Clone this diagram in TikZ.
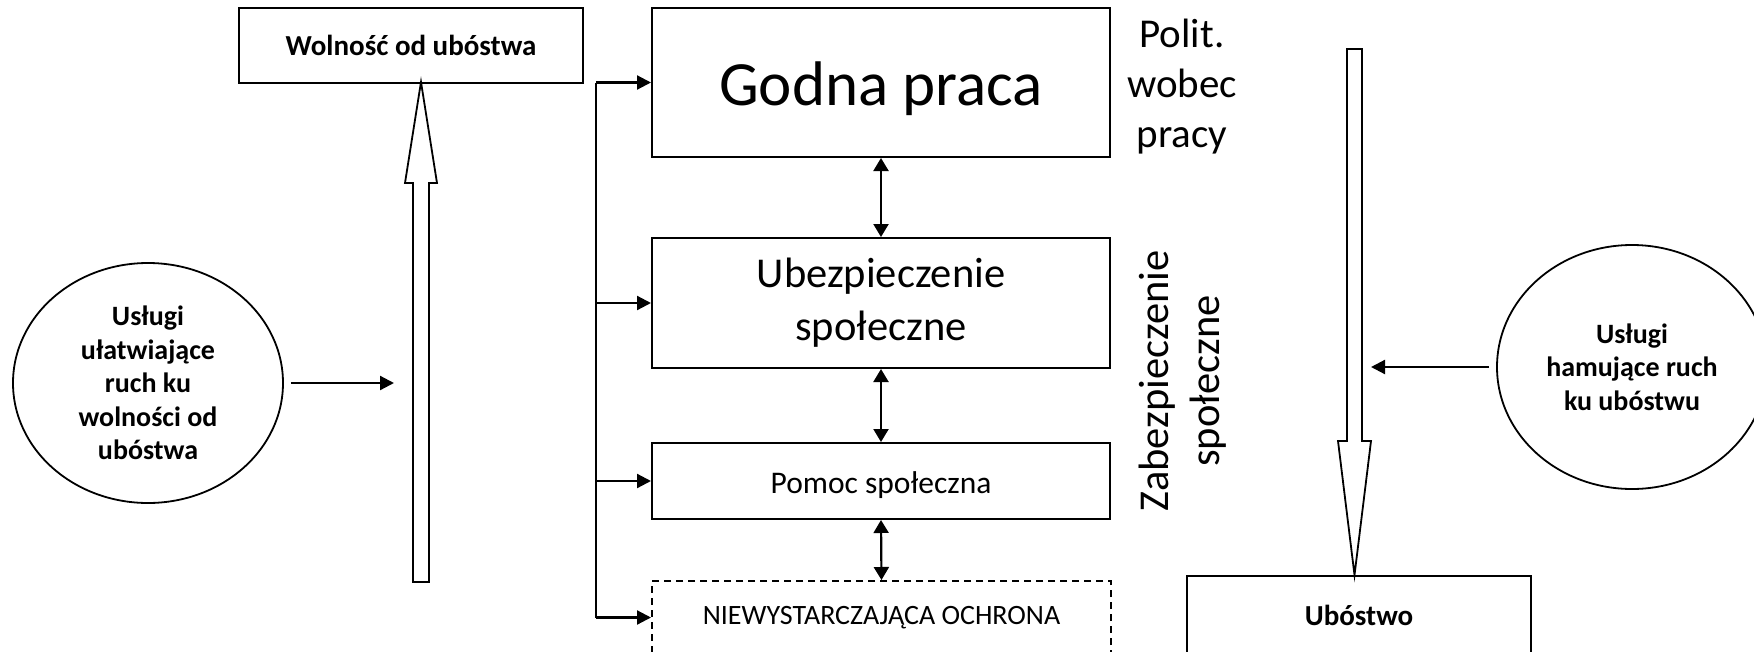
\documentclass[tikz,border=0pt]{standalone}
\usepackage{fontspec}
\setmainfont{Carlito}
\usetikzlibrary{arrows.meta,shapes.geometric}
\begin{document}
\begin{tikzpicture}[x=1pt,y=-1pt,
  box/.style={draw,line width=2pt,inner sep=0pt,anchor=north west,align=center},
  dbox/.style={box,dash pattern=on 7pt off 5pt},
  oval/.style={draw,ellipse,line width=1.8pt,inner sep=0pt,align=center,
    minimum width=270pt,font=\fontsize{28}{33.4}\selectfont\bfseries},
  conn/.style={line width=2.2pt,-{Triangle[length=14pt,width=14pt]}},
  dconn/.style={line width=2.2pt,{Triangle[length=13pt,width=15pt]}-{Triangle[length=13pt,width=15pt]}},
  trunk/.style={line width=2.8pt},
  hollow/.style={draw,line width=1.8pt,fill=white,line join=miter},
  side/.style={align=center,inner sep=0pt},
]
\useasboundingbox (0,0) rectangle (1754,651);
\fill[white] (0,0) rectangle (1754,651);
\clip (0,0) rectangle (1754,651);

% boxes
\node[box,minimum width=344pt,minimum height=75pt,
  font=\fontsize{29}{34}\selectfont\bfseries] (wol) at (238,7) {Wolność od ubóstwa};
\node[box,minimum width=458pt,minimum height=149pt,text height=45pt,text depth=0pt,
  font=\fontsize{63}{75}\selectfont] (godna) at (651,7) {Godna praca};
\node[box,minimum width=458pt,minimum height=130pt,
  font=\fontsize{42.5}{53}\selectfont] (ubez) at (651,237) {Ubezpieczenie\\społeczne};
\node[box,minimum width=458pt,minimum height=76pt,text height=24pt,text depth=0pt,
  font=\fontsize{31.5}{37}\selectfont] (pomoc) at (651,442) {Pomoc społeczna};
\node[dbox,minimum width=459pt,minimum height=73pt,
  font=\fontsize{28}{33}\selectfont] (niew) at (651,580) {NIEWYSTARCZAJĄCA OCHRONA};
\node[box,minimum width=344pt,minimum height=78pt,
  font=\fontsize{29}{34}\selectfont\bfseries] (ubo) at (1186,575) {Ubóstwo};

% side labels
\node[side,font=\fontsize{41}{50}\selectfont] (polit) at (1182,87) {Polit.\\wobec\\pracy};
\node[side,rotate=90,font=\fontsize{42.5}{51}\selectfont] (zab) at (1183,381) {Zabezpieczenie\\społeczne};

% ellipses
\node[oval,minimum height=240pt] (le) at (148,383)
  {Usługi\\ułatwiające\\ruch ku\\wolności od\\ubóstwa};
\node[oval,minimum height=244pt] (re) at (1632,367)
  {Usługi\\hamujące ruch\\ku ubóstwu};

% hollow arrows
\draw[hollow] (413,582) -- (413,183) -- (405,183) -- (421,82) -- (437,183)
  -- (429,183) -- (429,582) -- cycle;
\draw[hollow] (1347,49) -- (1347,441) -- (1338,441) -- (1354.5,575) -- (1371,441)
  -- (1362,441) -- (1362,49) -- cycle;

% connectors
\coordinate (upin) at (394,383);
\coordinate (downin) at (1371,367);
\draw[conn] ([xshift=7pt]le.east) -- (upin);
\draw[conn] ([xshift=-7pt]re.west) -- (downin);

\coordinate (bk) at (596,0);
\draw[trunk] (bk |- godna.west) -- (bk |- niew.west);
\draw[conn] (bk |- godna.west) -- (godna.west);
\draw[conn] (bk |- ubez.west) -- (ubez.west);
\draw[conn] (bk |- pomoc.west) -- (pomoc.west);
\draw[conn] (bk |- niew.west) -- (niew.west);

\draw[dconn] (godna.south) -- (ubez.north);
\draw[dconn] (ubez.south) -- (pomoc.north);
\draw[dconn] (pomoc.south) -- (niew.north);
\end{tikzpicture}
\end{document}
